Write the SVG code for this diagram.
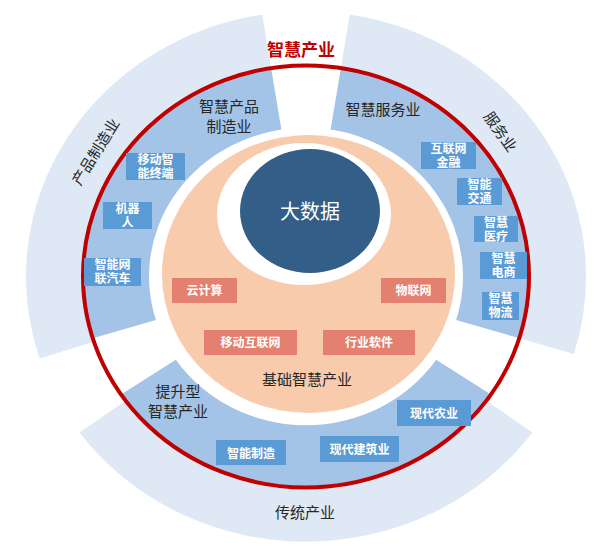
<svg xmlns="http://www.w3.org/2000/svg" width="609" height="551" viewBox="0 0 609 551">
<style>
text{font-family:"Noto Sans CJK SC","Liberation Sans",sans-serif;text-anchor:middle}
.lbl{font-size:15px;fill:#262626}
.bx{fill:#5b9bd5}
.bt{font-size:12px;fill:#fff;font-weight:bold}
.rb{fill:#e3806f}
.outer{fill:#dfe9f5}
.blue{fill:#a3c4e7}
</style>
<rect width="609" height="551" fill="#fff"/>
<g id="rings" transform="translate(306,276.5) scale(1,0.947)">
<path class="outer" d="M -266.3 86.5 A 280 280 0 0 1 -43.8 -276.6 L -34.9 -220.3 A 223 223 0 0 0 -212.1 68.9 Z"/>
<path class="outer" d="M 43.8 -276.6 A 280 280 0 0 1 267.8 81.9 L 213.3 65.2 A 223 223 0 0 0 34.9 -220.3 Z"/>
<path class="outer" d="M 226.5 164.6 A 280 280 0 0 1 -226.5 164.6 L -180.4 131.1 A 223 223 0 0 0 180.4 131.1 Z"/>
<path class="blue" d="M -213.3 65.2 A 223 223 0 0 1 -34.9 -220.3 L -24.6 -155.1 A 157 157 0 0 0 -150.1 45.9 Z"/>
<path class="blue" d="M 34.9 -220.3 A 223 223 0 0 1 213.3 65.2 L 150.1 45.9 A 157 157 0 0 0 24.6 -155.1 Z"/>
<path class="blue" d="M 184.9 124.7 A 223 223 0 0 1 -184.9 124.7 L -130.2 87.8 A 157 157 0 0 0 130.2 87.8 Z"/>
</g>
<ellipse id="redring" cx="306" cy="276.5" rx="223" ry="211" fill="none" stroke="#c00000" stroke-width="4"/>
<g id="base">
<ellipse cx="308.5" cy="274" rx="146.5" ry="139" fill="#f8cbad"/>
<ellipse cx="304" cy="214" rx="87" ry="71" fill="#fff"/>
<text class="lbl" x="307" y="385">基础智慧产业</text>
</g>
<g id="bigdata">
<ellipse cx="310" cy="211" rx="70" ry="62" fill="#335e87"/>
<text x="310" y="219" font-size="20" fill="#fff">大数据</text>
</g>
<g id="titles">
<text x="301" y="56" font-size="17" font-weight="bold" fill="#c00000">智慧产业</text>
<text class="lbl" x="229" y="112">智慧产品</text>
<text class="lbl" x="229" y="132">制造业</text>
<text class="lbl" x="383" y="115">智慧服务业</text>
<text class="lbl" x="178" y="397">提升型</text>
<text class="lbl" x="178" y="417">智慧产业</text>
<text class="lbl" x="96" y="157" transform="rotate(-58 96 152)">产品制造业</text>
<text class="lbl" x="500" y="137" transform="rotate(55 500 132)">服务业</text>
<text class="lbl" x="305" y="518">传统产业</text>
</g>
<g id="boxes">
<rect class="bx" x="126" y="153" width="59" height="27"/><text class="bt" x="155.5" y="164">移动智</text><text class="bt" x="155.5" y="177.5">能终端</text>
<rect class="bx" x="103" y="202" width="49" height="27"/><text class="bt" x="127.5" y="213">机器</text><text class="bt" x="127.5" y="226.5">人</text>
<rect class="bx" x="84" y="258" width="57" height="28"/><text class="bt" x="112.5" y="269">智能网</text><text class="bt" x="112.5" y="283">联汽车</text>
<rect class="bx" x="421" y="142" width="55" height="27"/><text class="bt" x="448.5" y="153">互联网</text><text class="bt" x="448.5" y="166.5">金融</text>
<rect class="bx" x="457" y="178" width="45" height="27"/><text class="bt" x="479.5" y="189">智能</text><text class="bt" x="479.5" y="202.5">交通</text>
<rect class="bx" x="474" y="216" width="44" height="26"/><text class="bt" x="496" y="227">智慧</text><text class="bt" x="496" y="240.5">医疗</text>
<rect class="bx" x="480" y="252" width="47" height="27"/><text class="bt" x="503.5" y="263">智慧</text><text class="bt" x="503.5" y="276.5">电商</text>
<rect class="bx" x="482" y="292" width="37" height="28"/><text class="bt" x="500.5" y="303">智慧</text><text class="bt" x="500.5" y="317">物流</text>
<rect class="bx" x="397" y="400" width="74" height="26"/><text class="bt" x="434" y="418">现代农业</text>
<rect class="bx" x="320" y="436" width="79" height="26"/><text class="bt" x="359.5" y="454">现代建筑业</text>
<rect class="bx" x="216" y="440" width="70" height="25"/><text class="bt" x="251" y="457.5">智能制造</text>
<rect class="rb" x="172" y="278" width="65" height="25"/><text class="bt" x="204.5" y="295">云计算</text>
<rect class="rb" x="381" y="278" width="65" height="25"/><text class="bt" x="413.5" y="295">物联网</text>
<rect class="rb" x="204" y="330" width="93" height="25"/><text class="bt" x="250.5" y="347">移动互联网</text>
<rect class="rb" x="323" y="330" width="92" height="25"/><text class="bt" x="369" y="347">行业软件</text>
</g>
<g id="connectors"/>
</svg>
